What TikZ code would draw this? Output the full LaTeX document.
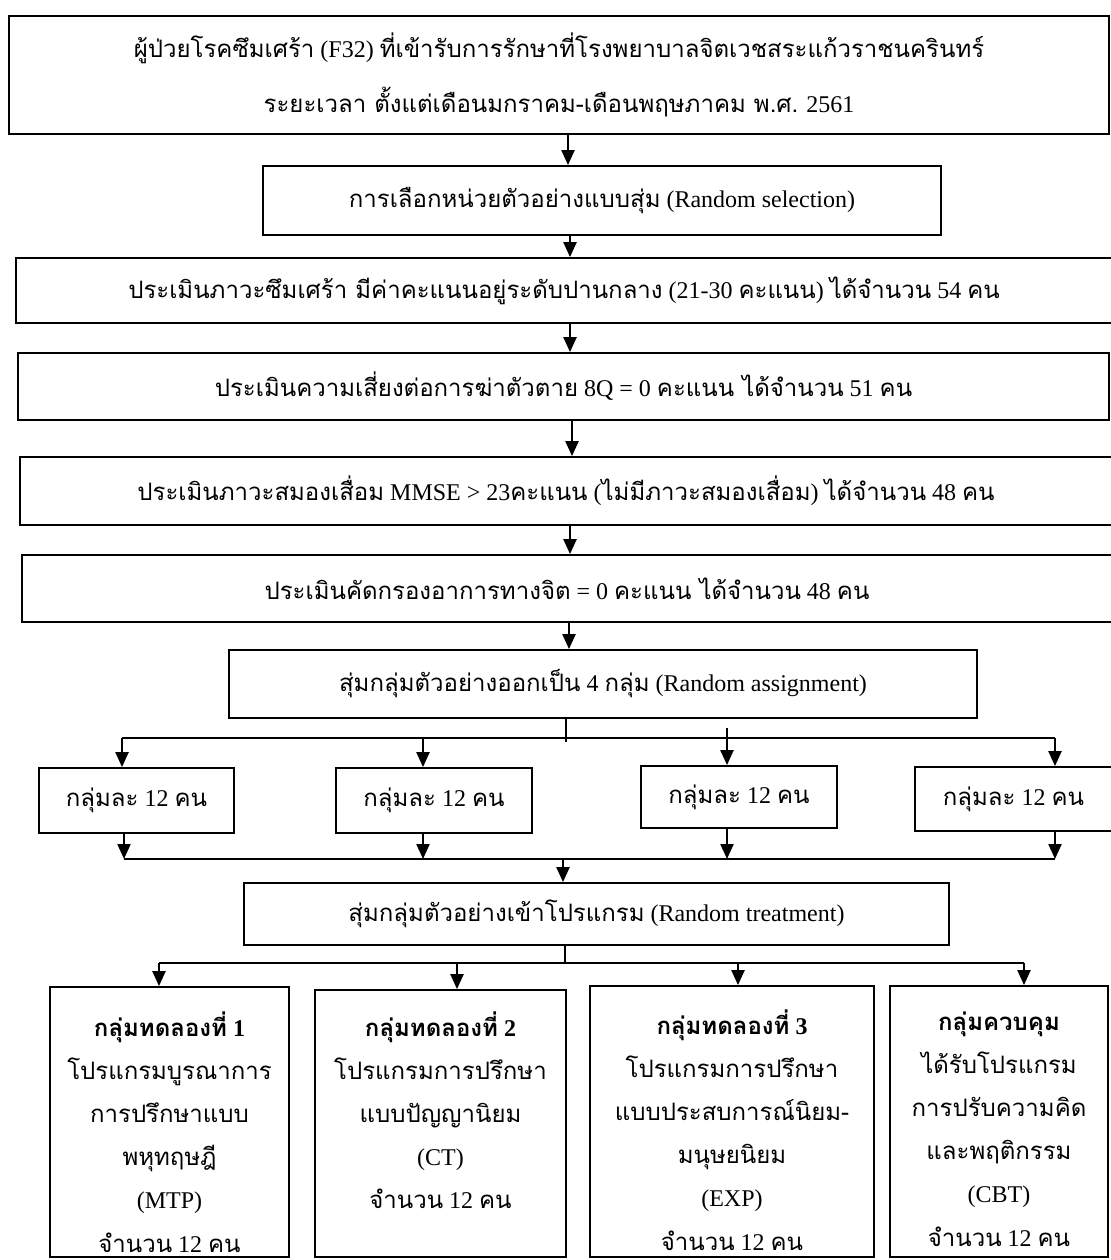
\documentclass[tikz,border=0pt]{standalone}
\usepackage{fontspec}
\setmainfont{Liberation Serif}
\newfontfamily\thaifont[Script=Thai]{Loma}
\newcommand{\tha}[1]{{\thaifont #1}}
\usetikzlibrary{arrows.meta}
\begin{document}
\begin{tikzpicture}[x=0.5pt,y=-0.5pt,
  box/.style={draw, line width=0.9pt, inner sep=0pt, align=center, font=\fontsize{12}{27.5}\selectfont},
  gbox/.style={draw, line width=0.9pt, inner sep=0pt},
  txt/.style={inner sep=0pt, align=center, font=\fontsize{12}{21.6}\selectfont},
  conn/.style={line width=1.1pt},
  arr/.style={line width=1.1pt, -{Triangle[length=7.5pt,width=6.5pt]}},
]
\useasboundingbox (0,0) rectangle (1110,1260);

% main column boxes
\node[box, minimum width=550pt, minimum height=59pt] (b1) at (559,75)
  {\tha{ผู้ป่วยโรคซึมเศร้า} (F32) \tha{ที่เข้ารับการรักษาที่โรงพยาบาลจิตเวชสระแก้วราชนครินทร์}\\
   \tha{ระยะเวลา ตั้งแต่เดือนมกราคม-เดือนพฤษภาคม พ.ศ.} 2561};
\node[box, minimum width=339pt, minimum height=34.5pt] (b2) at (602,200.5)
  {\tha{การเลือกหน่วยตัวอย่างแบบสุ่ม} (Random selection)};
\node[box, minimum width=548pt, minimum height=32.5pt] (b3) at (564,290.5)
  {\tha{ประเมินภาวะซึมเศร้า มีค่าคะแนนอยู่ระดับปานกลาง} (21-30 \tha{คะแนน}) \tha{ได้จำนวน} 54 \tha{คน}};
\node[box, minimum width=545.5pt, minimum height=33.5pt] (b4) at (563.5,386.5)
  {\tha{ประเมินความเสี่ยงต่อการฆ่าตัวตาย} 8Q = 0 \tha{คะแนน ได้จำนวน} 51 \tha{คน}};
\node[box, minimum width=546pt, minimum height=34pt] (b5) at (566,491)
  {\tha{ประเมินภาวะสมองเสื่อม} MMSE > 23\tha{คะแนน} (\tha{ไม่มีภาวะสมองเสื่อม}) \tha{ได้จำนวน} 48 \tha{คน}};
\node[box, minimum width=545pt, minimum height=33.5pt] (b6) at (567,588.5)
  {\tha{ประเมินคัดกรองอาการทางจิต} = 0 \tha{คะแนน ได้จำนวน} 48 \tha{คน}};
\node[box, minimum width=374pt, minimum height=34pt] (b7) at (603,684)
  {\tha{สุ่มกลุ่มตัวอย่างออกเป็น} 4 \tha{กลุ่ม} (Random assignment)};

% group boxes
\node[box, minimum width=97.5pt, minimum height=32.5pt] (g1) at (136.5,800.5) {\tha{กลุ่มละ} 12 \tha{คน}};
\node[box, minimum width=98pt, minimum height=32.5pt] (g2) at (434,800.5) {\tha{กลุ่มละ} 12 \tha{คน}};
\node[box, minimum width=98pt, minimum height=31pt] (g3) at (739,797) {\tha{กลุ่มละ} 12 \tha{คน}};
\node[box, minimum width=98.5pt, minimum height=32pt] (g4) at (1013.5,799) {\tha{กลุ่มละ} 12 \tha{คน}};

\node[box, minimum width=352.5pt, minimum height=31pt] (b8) at (596.5,914)
  {\tha{สุ่มกลุ่มตัวอย่างเข้าโปรแกรม} (Random treatment)};

% bottom boxes
\node[gbox, minimum width=119.5pt, minimum height=135pt] (t1) at (169.5,1122) {};
\node[gbox, minimum width=125.5pt, minimum height=133.5pt] (t2) at (440.5,1123.5) {};
\node[gbox, minimum width=142pt, minimum height=135.5pt] (t3) at (732,1121.5) {};
\node[gbox, minimum width=109pt, minimum height=135.5pt] (t4) at (999,1121.5) {};

\node[txt, anchor=north] (tt1) at (169.5,1011)
  {\textbf{\tha{กลุ่มทดลองที่} 1}\\ \tha{โปรแกรมบูรณาการ}\\ \tha{การปรึกษาแบบ}\\ \tha{พหุทฤษฎี}\\ (MTP)\\ \tha{จำนวน} 12 \tha{คน}};
\node[txt, anchor=north] (tt2) at (440.5,1011)
  {\textbf{\tha{กลุ่มทดลองที่} 2}\\ \tha{โปรแกรมการปรึกษา}\\ \tha{แบบปัญญานิยม}\\ (CT)\\ \tha{จำนวน} 12 \tha{คน}};
\node[txt, anchor=north] (tt3) at (732,1009)
  {\textbf{\tha{กลุ่มทดลองที่} 3}\\ \tha{โปรแกรมการปรึกษา}\\ \tha{แบบประสบการณ์นิยม-}\\ \tha{มนุษยนิยม}\\ (EXP)\\ \tha{จำนวน} 12 \tha{คน}};
\node[txt, anchor=north] (tt4) at (999,1011)
  {\textbf{\tha{กลุ่มควบคุม}}\\ \tha{ได้รับโปรแกรม}\\ \tha{การปรับความคิด}\\ \tha{และพฤติกรรม}\\ (CBT)\\ \tha{จำนวน} 12 \tha{คน}};

% x positions of vertical connectors
\coordinate (x1) at (568,0);
\coordinate (x2) at (570,0);
\coordinate (x3) at (570,0);
\coordinate (x4) at (572,0);
\coordinate (x5) at (570,0);
\coordinate (x6) at (569,0);
\draw[arr] (b1.south -| x1) -- (b2.north -| x1);
\draw[arr] (b2.south -| x2) -- (b3.north -| x2);
\draw[arr] (b3.south -| x3) -- (b4.north -| x3);
\draw[arr] (b4.south -| x4) -- (b5.north -| x4);
\draw[arr] (b5.south -| x5) -- (b6.north -| x5);
\draw[arr] (b6.south -| x6) -- (b7.north -| x6);

% split to group boxes
\coordinate (s7) at (566,742);
\coordinate (p1) at (122,738);
\coordinate (p2) at (423,738);
\coordinate (p3) at (727,738);
\coordinate (p4) at (1055,738);
\coordinate (p3t) at (727,728);
\draw[conn] (b7.south -| s7) -- (s7);
\draw[conn] (p1) -- (p4);
\draw[arr] (p1) -- (g1.north -| p1);
\draw[arr] (p2) -- (g2.north -| p2);
\draw[arr] (p3t) -- (g3.north -| p3);
\draw[arr] (p4) -- (g4.north -| p4);

% merge from group boxes
\coordinate (q1) at (124,859);
\coordinate (q2) at (423,859);
\coordinate (q3) at (727,859);
\coordinate (q4) at (1055,859);
\coordinate (qm) at (563,859);
\draw[arr] (g1.south -| q1) -- (q1);
\draw[arr] (g2.south -| q2) -- (q2);
\draw[arr] (g3.south -| q3) -- (q3);
\draw[arr] (g4.south -| q4) -- (q4);
\draw[conn] (q1) -- (q4);
\draw[arr] (qm) -- (b8.north -| qm);

% split to treatment boxes
\coordinate (r0) at (565,963);
\coordinate (r1) at (159,963);
\coordinate (r2) at (457,963);
\coordinate (r3) at (738,963);
\coordinate (r4) at (1024,963);
\draw[conn] (b8.south -| r0) -- (r0);
\draw[conn] (r1) -- (r4);
\draw[arr] (r1) -- (t1.north -| r1);
\draw[arr] (r2) -- (t2.north -| r2);
\draw[arr] (r3) -- (t3.north -| r3);
\draw[arr] (r4) -- (t4.north -| r4);
\end{tikzpicture}
\end{document}
